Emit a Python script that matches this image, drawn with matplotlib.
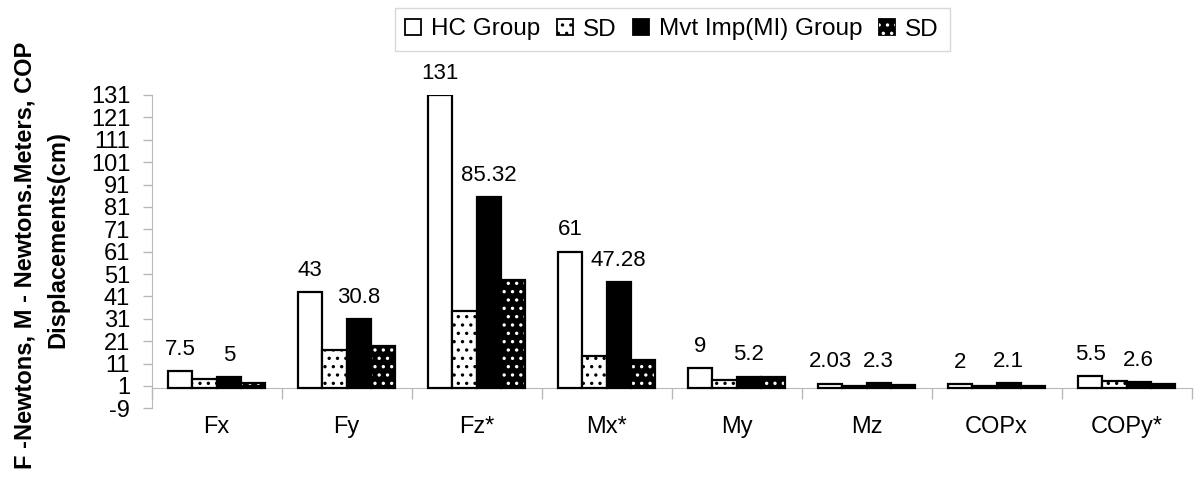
import numpy as np
import matplotlib
matplotlib.use("Agg")
import matplotlib.pyplot as plt
from matplotlib.patches import Rectangle

plt.rcParams["font.family"] = ["Liberation Sans", "DejaVu Sans"]
plt.rcParams["hatch.linewidth"] = 1.2
plt.rcParams["axes.unicode_minus"] = False

# data
categories = ["Fx", "Fy", "Fz*", "Mx*", "My", "Mz", "COPx", "COPy*"]
hc_mean = [7.5, 43, 131, 61, 9, 2.03, 2, 5.5]
hc_sd = [4.0, 17.2, 34.3, 14.2, 3.7, 1.0, 1.0, 3.0]
mi_mean = [5, 30.8, 85.32, 47.28, 5.2, 2.3, 2.1, 2.6]
mi_sd = [2.2, 19.0, 48.3, 12.7, 5.0, 1.6, 1.0, 1.8]
hc_labels = ["7.5", "43", "131", "61", "9", "2.03", "2", "5.5"]
mi_labels = ["5", "30.8", "85.32", "47.28", "5.2", "2.3", "2.1", "2.6"]
yticks = np.arange(-9, 132, 10)

fig = plt.figure(figsize=(12, 4.78), dpi=100)
ax = fig.add_axes([0.1264, 0.1458, 0.8666, 0.6555])

x = np.arange(len(categories))
w = 0.187
offs = np.array([-1.5, -0.5, 0.5, 1.5]) * w
lw = 1.6

ax.bar(x + offs[0], hc_mean, w, color="white", edgecolor="black", lw=lw, zorder=3)
ax.bar(x + offs[1], hc_sd, w, color="white", edgecolor="black", hatch="..", lw=lw, zorder=3)
ax.bar(x + offs[2], mi_mean, w, color="black", edgecolor="black", lw=lw, zorder=3)
ax.bar(x + offs[3], mi_sd, w, color="black", edgecolor="black", lw=0, zorder=3)
ax.bar(x + offs[3], mi_sd, w, fill=False, edgecolor="white", hatch="..", lw=0, zorder=4)
ax.bar(x + offs[3], mi_sd, w, fill=False, edgecolor="black", lw=lw, zorder=5)

for i in range(len(categories)):
    ax.annotate(hc_labels[i], (x[i] + offs[0], hc_mean[i]), xytext=(0, 15.6),
                textcoords="offset points", ha="center", va="center", fontsize=16)
    ax.annotate(mi_labels[i], (x[i] + offs[2], mi_mean[i]), xytext=(0, 15.6),
                textcoords="offset points", ha="center", va="center", fontsize=16)

ax.set_xlim(-0.5, len(categories) - 0.5)
ax.set_ylim(-9, 131)
ax.set_yticks(yticks)
ax.tick_params(axis="y", labelsize=17, color="#b8b8b8", length=6.5, width=1, pad=9)

# category axis crossing at zero
ax.spines["top"].set_visible(False)
ax.spines["right"].set_visible(False)
ax.spines["left"].set_color("#b8b8b8")
ax.spines["bottom"].set_position(("data", 0))
ax.spines["bottom"].set_color("#b8b8b8")
ax.set_xticks(np.arange(-0.5, len(categories), 1.0))
ax.set_xticklabels([])
ax.tick_params(axis="x", which="major", color="#b8b8b8", length=8, width=1)
ax.set_xticks(x, minor=True)
ax.set_xticklabels(categories, minor=True, fontsize=17)
ax.tick_params(axis="x", which="minor", length=0, pad=20)

fig.text(25 / 1200, 1 - 255 / 478, "F -Newtons, M - Newtons.Meters, COP",
         rotation=90, ha="center", va="center", fontsize=17, fontweight="bold")
fig.text(58 / 1200, 1 - 240 / 478, "Displacements(cm)",
         rotation=90, ha="center", va="center", fontsize=17, fontweight="bold")

h1 = Rectangle((0, 0), 1, 1, facecolor="white", edgecolor="black", lw=1.3)
h2 = Rectangle((0, 0), 1, 1, facecolor="white", edgecolor="black", hatch="..", lw=1.3)
h3 = Rectangle((0, 0), 1, 1, facecolor="black", edgecolor="black", lw=1.3)
h4a = Rectangle((0, 0), 1, 1, facecolor="black", edgecolor="black", lw=1.3)
h4b = Rectangle((0, 0), 1, 1, fill=False, edgecolor="white", hatch="..", lw=0)
leg = fig.legend([h1, h2, h3, (h4a, h4b)], ["HC Group", "SD", "Mvt Imp(MI) Group", "SD"],
                 loc="center", bbox_to_anchor=(672 / 1200, 1 - 29.5 / 478), ncol=4,
                 fontsize=17.5, frameon=True, fancybox=False, handlelength=0.65,
                 handleheight=0.65, handletextpad=0.4, columnspacing=0.7,
                 borderpad=0.45)
leg.get_frame().set_edgecolor("#cfcfcf")
leg.get_frame().set_linewidth(1.0)

fig.savefig("out.png", dpi=100)
